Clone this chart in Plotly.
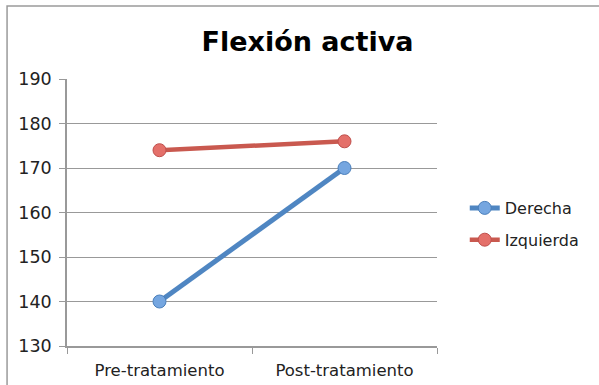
import plotly.graph_objects as go

# Active flexion range before and after treatment
categories = ["Pre-tratamiento", "Post-tratamiento"]
derecha = [140, 170]
izquierda = [174, 176]
y_ticks = [130, 140, 150, 160, 170, 180, 190]

fig = go.Figure()

fig.add_trace(go.Scatter(
    x=categories, y=derecha, name="Derecha", mode="lines+markers",
    legendgroup="der",
    line=dict(color="#4F86C2", width=5),
    marker=dict(size=13, color="#75A6E0", line=dict(color="#4A7FBB", width=1)),
))
fig.add_trace(go.Scatter(
    x=categories, y=izquierda, name="Izquierda", mode="lines+markers",
    legendgroup="izq",
    line=dict(color="#C9594F", width=4.5),
    marker=dict(size=13, color="#E4706A", line=dict(color="#C0504D", width=1)),
))

# Chart frame (left and top edges visible)
fig.add_shape(type="rect", xref="paper", yref="paper",
              x0=-0.162, x1=2.0, y0=-1.0, y1=1.273,
              line=dict(color="#9A9A9A", width=1.5), layer="below")

axis_gray = "#999999"

fig.update_layout(
    width=599, height=385,
    margin=dict(l=67, r=162, t=79, b=39, autoexpand=False),
    paper_bgcolor="white", plot_bgcolor="white",
    font=dict(family="DejaVu Sans", size=16, color="#222222"),
    title=dict(text="<b>Flexión activa</b>", x=0.65, xref="paper", xanchor="center",
               y=0.893, yanchor="middle",
               font=dict(family="DejaVu Sans", size=27, color="#000000")),
    showlegend=True,
    legend=dict(x=1.075, y=0.457, xanchor="left", yanchor="middle",
                font=dict(size=16), tracegroupgap=8, itemwidth=30),
    xaxis=dict(type="category", range=[-0.5, 1.5], tickson="boundaries",
               ticks="outside", ticklen=6, tickcolor=axis_gray,
               showline=True, linecolor=axis_gray, linewidth=1.5,
               showgrid=False, tickfont=dict(size=16.5), ticklabelstandoff=8,
               automargin=False),
    yaxis=dict(range=[130, 190], tickvals=y_ticks,
               ticks="outside", ticklen=6, tickcolor=axis_gray,
               showline=True, linecolor=axis_gray, linewidth=1.5,
               showgrid=True, gridcolor=axis_gray, gridwidth=1.2,
               zeroline=False, tickfont=dict(size=17.5), ticklabelstandoff=4,
               automargin=False),
)

fig.write_html("out.html")
